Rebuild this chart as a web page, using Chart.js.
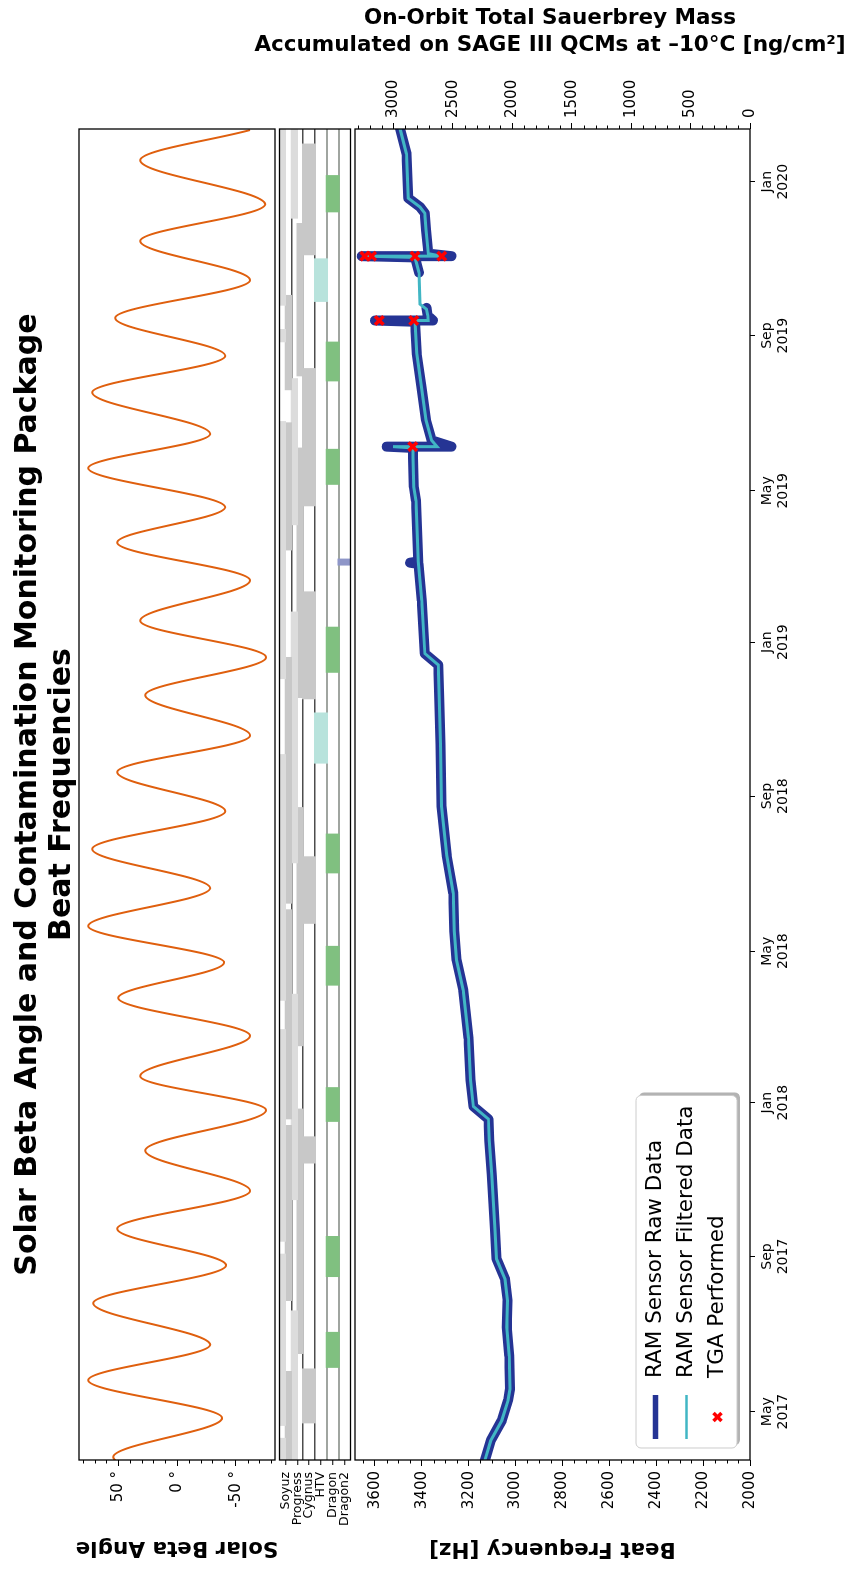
<!DOCTYPE html>
<html>
<head>
<meta charset="utf-8">
<script src="https://cdn.jsdelivr.net/npm/chart.js@4.4.1/dist/chart.umd.min.js"></script>
<style>
  html, body { margin: 0; padding: 0; background: #fff; overflow: hidden; width: 860px; height: 1569px; }
  /* the figure is laid out landscape and turned a quarter turn */
  #sheet { position: absolute; left: 0; top: 0; width: 1569px; height: 860px;
           transform-origin: 0 0; transform: translate(0, 1569px) rotate(-90deg); }
  #sheet canvas { position: absolute; left: 0; }
</style>
</head>
<body>
<div id="sheet">
  <canvas id="beta"  width="1569" height="290" style="top:0;width:1569px;height:290px"></canvas>
  <canvas id="craft" width="1450" height="100" style="top:265px;width:1450px;height:100px"></canvas>
  <canvas id="freq"  width="1569" height="620" style="top:240px;width:1569px;height:620px"></canvas>
</div>
<script>
// ---- solar beta angle: turning points of the orbit beta cycle ----
const betaDates = ['2017-03-22','2017-03-26','2017-04-26','2017-05-26','2017-06-23','2017-07-26','2017-08-25',
  '2017-09-23','2017-10-23','2017-11-24','2017-12-26','2018-01-22','2018-02-23','2018-03-25','2018-04-22',
  '2018-05-21','2018-06-20','2018-07-21','2018-08-20','2018-09-20','2018-10-19','2018-11-20','2018-12-20',
  '2019-01-18','2019-02-19','2019-03-21','2019-04-18','2019-05-19','2019-06-15','2019-07-18','2019-08-16',
  '2019-09-15','2019-10-15','2019-11-15','2019-12-14','2020-01-18','2020-02-11'];
const betaAngles = [51.5, 54.2, -38.4, 75.5, -28.2, 71.3, -41.8,
  50.8, -62.2, 27.0, -75.8, 31.3, -62.2, 50.0, -40.1,
  75.5, -28.2, 72.1, -41.0, 50.8, -62.2, 27.0, -75.8,
  31.3, -62.2, 50.8, -41.0, 75.5, -28.2, 72.1, -41.0,
  52.5, -62.2, 31.3, -75.0, 31.3, -62.2];

// ---- visiting vehicles docked to the station [arrival, departure] ----
const soyuzLaneA = [['2017-03-22','2017-04-10'],['2017-04-20','2017-09-03'],['2017-09-13','2018-02-28'],
  ['2018-03-23','2018-10-04'],['2018-12-03','2019-06-25'],['2019-08-27','2019-09-06'],['2019-09-25','2020-02-13']];
const soyuzLaneB = [['2017-03-22','2017-06-02'],['2017-07-28','2017-12-14'],['2017-12-19','2018-06-03'],
  ['2018-06-08','2018-12-20'],['2019-03-15','2019-06-24'],['2019-07-20','2019-10-03']];
const progressLaneA = [['2017-03-22','2017-07-20'],['2017-10-16','2018-03-28'],['2018-07-10','2019-01-25'],
  ['2019-04-04','2019-07-29'],['2019-12-03','2020-02-13']];
const progressLaneB = [['2017-06-16','2017-12-27'],['2018-02-15','2018-08-23'],['2018-11-18','2019-06-04'],
  ['2019-07-31','2019-11-29']];
const cygnusStays = [['2017-04-22','2017-06-04'],['2017-11-14','2017-12-05'],['2018-05-23','2018-07-15'],
  ['2018-11-17','2019-02-10'],['2019-04-19','2019-08-06'],['2019-11-04','2020-01-31']];
const htvStays = [['2018-09-27','2018-11-06'],['2019-09-28','2019-11-01']];
const dragonStays = [['2017-06-05','2017-07-03'],['2017-08-16','2017-09-17'],['2017-12-17','2018-01-13'],
  ['2018-04-04','2018-05-05'],['2018-07-02','2018-08-02'],['2018-12-08','2019-01-13'],
  ['2019-05-06','2019-06-03'],['2019-07-27','2019-08-27'],['2019-12-08','2020-01-06']];
const dragon2Stays = [['2019-03-03','2019-03-08']];
const vehicles = ['Soyuz','Progress','Cygnus','HTV','Dragon','Dragon2'];

// ---- RAM QCM beat frequency [Hz] ----
const rawDates = ['2017-03-22','2017-04-08','2017-04-24','2017-05-10','2017-05-19','2017-06-14','2017-07-07',
  '2017-07-28','2017-08-14','2017-08-30','2017-09-22','2017-11-05','2017-12-02','2017-12-19','2017-12-29',
  '2018-01-19','2018-02-21','2018-03-31','2018-04-24','2018-05-17','2018-06-16','2018-07-16','2018-08-24',
  '2018-10-12','2018-11-17','2018-12-14','2018-12-23','2019-02-03','2019-03-04','2019-03-05','2019-03-06',
  '2019-04-23','2019-05-04','2019-06-04','2019-06-05','2019-06-05','2019-06-10','2019-06-26','2019-07-22',
  '2019-08-18','2019-09-12','2019-09-13','2019-09-13','2019-09-17','2019-09-23','2019-10-05','2019-10-21',
  '2019-11-02','2019-11-03','2019-11-03','2019-11-05','2019-11-24','2019-12-07','2019-12-12','2019-12-19',
  '2020-01-23','2020-02-13'];
const rawHz = [3133,3106,3059,3032,3024,3027,3038,
  3034,3045,3081,3088,3102,3112,3116,3180,
  3192,3201,3223,3252,3262,3266,3294,3316,
  3320,3326,3330,3387,3400,3414,3450,3415,
  3425,3434,3439,3550,3273,3358,3382,3401,
  3422,3429,3600,3352,3375,3380,null,3412,
  3429,3656,3273,3372,3382,3387,3408,3458,
  3465,3494];
const filtDates = ['2017-03-22','2017-04-08','2017-04-24','2017-05-10','2017-05-19','2017-06-14','2017-07-07',
  '2017-07-28','2017-08-14','2017-08-30','2017-09-22','2017-11-05','2017-12-02','2017-12-19','2017-12-29',
  '2018-01-19','2018-02-21','2018-03-31','2018-04-24','2018-05-17','2018-06-16','2018-07-16','2018-08-24',
  '2018-10-12','2018-11-17','2018-12-14','2018-12-23','2019-02-03','2019-03-06',
  '2019-04-23','2019-05-04','2019-06-04','2019-06-05','2019-06-05','2019-06-10','2019-06-26','2019-07-22',
  '2019-08-18','2019-09-12','2019-09-13','2019-09-13','2019-09-17','2019-09-22','2019-09-26','2019-10-21',
  '2019-11-02','2019-11-03','2019-11-03','2019-11-05','2019-11-24','2019-12-07','2019-12-12','2019-12-19',
  '2020-01-23','2020-02-13'];
const filtHz = [3133,3106,3059,3032,3024,3027,3038,
  3034,3045,3081,3088,3102,3112,3116,3180,
  3192,3201,3223,3252,3262,3266,3294,3316,
  3320,3326,3330,3387,3400,3415,
  3425,3434,3439,3523,3335,3358,3382,3401,
  3422,3429,3434,3373,3375,3380,3408,3412,
  3429,3635,3316,3372,3382,3387,3408,3458,
  3465,3494];
const tgaDates = ['2019-06-05','2019-09-13','2019-09-13','2019-11-03','2019-11-03','2019-11-03','2019-11-03'];
const tgaHz = [3439, 3582, 3434, 3643, 3614, 3429, 3315];

// ---- axis ticks ----
const timeTicks = ['2017-05-01','2017-09-01','2018-01-01','2018-05-01','2018-09-01',
  '2019-01-01','2019-05-01','2019-09-01','2020-01-01'];
const timeLabels = [['May','2017'],['Sep','2017'],['Jan','2018'],['May','2018'],['Sep','2018'],
  ['Jan','2019'],['May','2019'],['Sep','2019'],['Jan','2020']];
const betaTicks = [-50, 0, 50];
const hzTicks = [2000, 2200, 2400, 2600, 2800, 3000, 3200, 3400, 3600];
const massTicks = [0, 500, 1000, 1500, 2000, 2500, 3000];

// day number counted from 1 Jan 2017
function day(s) {
  const [y, m, d] = s.split('-').map(Number);
  return (Date.UTC(y, m - 1, d) - Date.UTC(2017, 0, 1)) / 86400000;
}
function spaced(from, to, step, major) {
  const out = [];
  for (let v = from; v <= to + 1e-9; v += step) if (Math.abs(v % major) > 1e-9) out.push(v);
  return out;
}

const X_MIN = day('2017-03-23') + 0.7, X_MAX = day('2020-02-11') + 0.8;
const HZ_MIN = 2000, HZ_MAX = 3685, MASS_MAX = 3324, BETA_LIM = 83.4;
const FAMILY = '"DejaVu Sans", sans-serif';

Chart.defaults.font.family = FAMILY;
Chart.defaults.color = '#000';
Chart.defaults.animation = false;
Chart.defaults.plugins.legend.display = false;
Chart.defaults.plugins.tooltip.enabled = false;

// black spine around each plotting area
const frame = {
  id: 'frame',
  afterDraw(chart) {
    const { ctx, chartArea: a } = chart;
    ctx.save();
    ctx.strokeStyle = '#000';
    ctx.lineWidth = 1.3;
    ctx.strokeRect(a.left, a.top, a.right - a.left, a.bottom - a.top);
    ctx.restore();
  }
};

// short minor tick marks along vertical axes
function minorTicks(list) {
  return {
    id: 'minorTicks',
    afterDraw(chart) {
      const { ctx, chartArea: a } = chart;
      ctx.save();
      ctx.strokeStyle = '#000';
      ctx.lineWidth = 1;
      for (const m of list) {
        const s = chart.scales[m.scale];
        for (const v of m.values) {
          const p = Math.round(s.getPixelForValue(v)) + 0.5;
          const x0 = m.side === 'left' ? a.left : a.right;
          const x1 = m.side === 'left' ? a.left - 3.5 : a.right + 3.5;
          ctx.beginPath(); ctx.moveTo(x0, p); ctx.lineTo(x1, p); ctx.stroke();
        }
      }
      ctx.restore();
    }
  };
}

function roundRectPath(ctx, x, y, w, h, r) {
  ctx.beginPath();
  ctx.moveTo(x + r, y);
  ctx.arcTo(x + w, y, x + w, y + h, r);
  ctx.arcTo(x + w, y + h, x, y + h, r);
  ctx.arcTo(x, y + h, x, y, r);
  ctx.arcTo(x, y, x + w, y, r);
  ctx.closePath();
}

// boxed legend with drop shadow in the lower left of the frequency panel
const legendBox = {
  id: 'legendBox',
  afterDraw(chart) {
    const { ctx, chartArea: a } = chart;
    const sets = chart.data.datasets;
    const entries = [sets[2], sets[1], sets[0]];
    ctx.save();
    ctx.font = '21.5px ' + FAMILY;
    const tw = Math.max(...entries.map(e => ctx.measureText(e.label).width));
    const w = 70 + tw + 10, h = 101;
    const left = a.left + 12, top = a.bottom - 13 - h;
    roundRectPath(ctx, left + 3, top + 3, w, h, 5);
    ctx.fillStyle = '#b3b3b3'; ctx.fill();
    roundRectPath(ctx, left, top, w, h, 5);
    ctx.fillStyle = '#fff'; ctx.fill();
    ctx.strokeStyle = '#cccccc'; ctx.lineWidth = 1; ctx.stroke();
    entries.forEach((e, i) => {
      const cy = top + 19.5 + i * 31;
      const hx0 = left + 9, hx1 = left + 53;
      if (e.showLine === false) {
        const cx = (hx0 + hx1) / 2, r = 4;
        ctx.strokeStyle = e.borderColor; ctx.lineWidth = 3.5;
        ctx.beginPath();
        ctx.moveTo(cx - r, cy - r); ctx.lineTo(cx + r, cy + r);
        ctx.moveTo(cx - r, cy + r); ctx.lineTo(cx + r, cy - r);
        ctx.stroke();
      } else {
        ctx.strokeStyle = e.borderColor;
        ctx.lineWidth = e.borderWidth > 5 ? 5.5 : 2.5;
        ctx.beginPath(); ctx.moveTo(hx0, cy); ctx.lineTo(hx1, cy); ctx.stroke();
      }
      ctx.fillStyle = '#000';
      ctx.textAlign = 'left';
      ctx.textBaseline = 'middle';
      ctx.fillText(e.label, left + 70, cy);
    });
    ctx.restore();
  }
};

// ---------------- panel 1: solar beta angle ----------------
new Chart(document.getElementById('beta'), {
  type: 'line',
  data: {
    datasets: [{
      data: betaDates.map((d, i) => ({ x: day(d), y: betaAngles[i] })),
      borderColor: '#df5f0e', borderWidth: 2, pointRadius: 0, pointHoverRadius: 0,
      cubicInterpolationMode: 'monotone', xAxisID: 'x', yAxisID: 'y'
    }]
  },
  options: {
    responsive: false, devicePixelRatio: 1, animation: false,
    layout: { padding: { left: 0, right: 20, top: 0, bottom: 15 } },
    plugins: {
      title: {
        display: true,
        text: ['Solar Beta Angle and Contamination Monitoring Package', 'Beat Frequencies'],
        font: { size: 30, weight: 'bold', lineHeight: '34px' },
        padding: { top: 11, bottom: 0 }
      }
    },
    scales: {
      x: { type: 'linear', display: false, min: X_MIN, max: X_MAX },
      y: {
        type: 'linear', position: 'left', min: -BETA_LIM, max: BETA_LIM,
        afterBuildTicks: s => { s.ticks = betaTicks.map(v => ({ value: v })); },
        afterFit: s => { s.width = 109; },
        ticks: { callback: v => v + ' °', font: { size: 15 }, padding: 5 },
        grid: { drawOnChartArea: false, tickLength: 6, tickColor: '#000', tickWidth: 1 },
        border: { display: false },
        title: { display: true, text: 'Solar Beta Angle', font: { size: 21.5, weight: 'bold' }, padding: { top: 9, bottom: 0 } }
      },
      yR: {
        type: 'linear', position: 'right', display: true,
        ticks: { display: false }, grid: { display: false }, border: { display: false },
        afterFit: s => { s.width = 109; }
      }
    }
  },
  plugins: [frame, minorTicks([{ scale: 'y', side: 'left', values: spaced(-80, 80, 10, 50) }])]
});

// ---------------- panel 2: docked vehicles ----------------
const LIGHT = '#dcdcdc', DARK = '#c8c8c8';
const lanes = [
  { stays: soyuzLaneA, row: 0.25, thick: 6.67, color: LIGHT },
  { stays: soyuzLaneB, row: 0.75, thick: 6.67, color: DARK },
  { stays: progressLaneA, row: 1.25, thick: 6.67, color: LIGHT },
  { stays: progressLaneB, row: 1.75, thick: 6.67, color: DARK },
  { stays: cygnusStays, row: 2.5, thick: 13.33, color: DARK },
  { stays: htvStays, row: 3.5, thick: 13.33, color: '#b8e3dc' },
  { stays: dragonStays, row: 4.5, thick: 13.33, color: '#80c080' },
  { stays: dragon2Stays, row: 5.5, thick: 13.33, color: '#8e96c8' }
];
const sepColor = v => (v >= 1 && v <= 3 ? '#4d4d4d' : (v === 4 || v === 5 ? '#a0a5a0' : 'rgba(0,0,0,0)'));
new Chart(document.getElementById('craft'), {
  type: 'bar',
  data: {
    datasets: lanes.map(l => ({
      data: l.stays.map(p => ({ x: [day(p[0]), day(p[1])], y: l.row })),
      backgroundColor: l.color, borderWidth: 0, barThickness: l.thick, grouped: false,
      xAxisID: 'x', yAxisID: 'y'
    }))
  },
  options: {
    indexAxis: 'y', responsive: false, devicePixelRatio: 1, animation: false,
    layout: { padding: { left: 0, right: 10, top: 10, bottom: 10 } },
    scales: {
      x: { type: 'linear', display: false, min: X_MIN, max: X_MAX },
      y: {
        type: 'linear', min: 0, max: 6, reverse: true, offset: false, z: 1,
        afterBuildTicks: s => { const t = []; for (let i = 0; i <= 12; i++) t.push({ value: i / 2 }); s.ticks = t; },
        afterFit: s => { s.width = 109; },
        ticks: { autoSkip: false, font: { size: 12.5 }, padding: 7,
                 callback: v => (v % 1 ? vehicles[Math.floor(v)] : '') },
        grid: {
          offset: false, drawOnChartArea: true, tickLength: 5,
          color: c => (c.tick && c.tick.value % 1 === 0 ? sepColor(c.tick.value) : 'rgba(0,0,0,0)'),
          lineWidth: c => (c.tick && (c.tick.value === 4 || c.tick.value === 5) ? 2 : 1.5),
          tickColor: c => (c.tick && c.tick.value % 1 ? '#000' : 'rgba(0,0,0,0)'),
          tickWidth: 1
        },
        border: { display: false }
      }
    }
  },
  plugins: [frame]
});

// ---------------- panel 3: beat frequency and Sauerbrey mass ----------------
new Chart(document.getElementById('freq'), {
  type: 'line',
  data: {
    datasets: [
      {
        label: 'TGA Performed',
        data: tgaDates.map((d, i) => ({ x: day(d), y: tgaHz[i] })),
        showLine: false, pointStyle: 'crossRot', pointRadius: 6, pointHoverRadius: 6,
        pointBorderWidth: 3.5, borderColor: '#ff0000', backgroundColor: '#ff0000',
        order: 0, xAxisID: 'x', yAxisID: 'y'
      },
      {
        label: 'RAM Sensor Filtered Data',
        data: filtDates.map((d, i) => ({ x: day(d), y: filtHz[i] })),
        borderColor: '#41b6c4', borderWidth: 3, pointRadius: 0, pointHoverRadius: 0,
        order: 1, xAxisID: 'x', yAxisID: 'y'
      },
      {
        label: 'RAM Sensor Raw Data',
        data: rawDates.map((d, i) => ({ x: day(d), y: rawHz[i] })),
        borderColor: '#253494', borderWidth: 10, pointRadius: 0, pointHoverRadius: 0,
        borderCapStyle: 'round', borderJoinStyle: 'round', spanGaps: false,
        order: 2, xAxisID: 'x', yAxisID: 'y'
      }
    ]
  },
  options: {
    responsive: false, devicePixelRatio: 1, animation: false,
    layout: { padding: 0 },
    plugins: {
      title: {
        display: true, position: 'right',
        text: ['On-Orbit Total Sauerbrey Mass', 'Accumulated on SAGE III QCMs at –10°C [ng/cm²]'],
        font: { size: 21.5, weight: 'bold', lineHeight: '27px' },
        padding: { top: 5, bottom: 5 }
      }
    },
    scales: {
      x: {
        type: 'linear', position: 'bottom', min: X_MIN, max: X_MAX,
        afterBuildTicks: s => { s.ticks = timeTicks.map(d => ({ value: day(d) })); },
        afterFit: s => { s.height = 110; },
        ticks: { autoSkip: false, maxRotation: 0, minRotation: 0, padding: 4,
                 font: { size: 14, lineHeight: '16px' }, callback: (v, i) => timeLabels[i] },
        grid: { drawOnChartArea: false, tickLength: 5, tickColor: '#000', tickWidth: 1 },
        border: { display: false }
      },
      xTop: {
        type: 'linear', position: 'top', display: true,
        ticks: { display: false }, grid: { display: false }, border: { display: false },
        afterFit: s => { s.height = 115; }
      },
      y: {
        type: 'linear', position: 'left', min: HZ_MIN, max: HZ_MAX,
        afterBuildTicks: s => { s.ticks = hzTicks.map(v => ({ value: v })); },
        afterFit: s => { s.width = 109; },
        ticks: { callback: v => String(v), font: { size: 15 }, padding: 5 },
        grid: { drawOnChartArea: false, tickLength: 6, tickColor: '#000', tickWidth: 1 },
        border: { display: false },
        title: { display: true, text: 'Beat Frequency [Hz]', font: { size: 21.5, weight: 'bold' }, padding: { top: 8, bottom: 0 } }
      },
      mass: {
        type: 'linear', position: 'right', display: true, min: 0, max: MASS_MAX,
        afterBuildTicks: s => { s.ticks = massTicks.map(v => ({ value: v })); },
        afterFit: s => { s.width = 65; },
        ticks: { callback: v => String(v), font: { size: 15 }, padding: 5 },
        grid: { drawOnChartArea: false, tickLength: 6, tickColor: '#000', tickWidth: 1 },
        border: { display: false }
      }
    }
  },
  plugins: [frame, minorTicks([
    { scale: 'y', side: 'left', values: spaced(2050, 3650, 50, 200) },
    { scale: 'mass', side: 'right', values: spaced(100, 3300, 100, 500) }
  ]), legendBox]
});
</script>
</body>
</html>
